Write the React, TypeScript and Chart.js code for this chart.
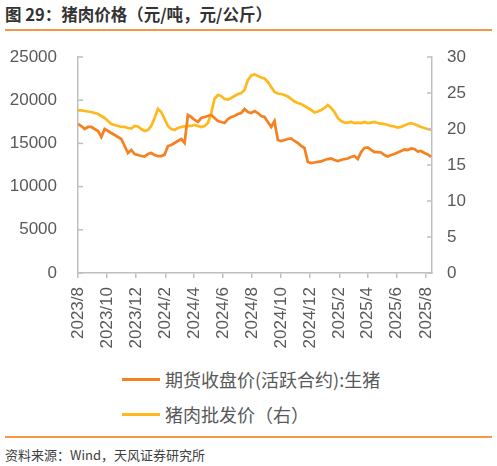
import { useEffect, useRef } from 'react';
import { Chart, registerables } from 'chart.js';

Chart.register(...registerables);

// weekly samples starting 2023-08-01
const startDate = Date.UTC(2023, 7, 1);
const stepDays = 7;

const tickLabels = ['2023/8', '2023/10', '2023/12', '2024/2', '2024/4', '2024/6', '2024/8', '2024/10', '2024/12', '2025/2', '2025/4', '2025/6', '2025/8'];

const seriesNames = ['期货收盘价(活跃合约):生猪', '猪肉批发价（右）'];

// 元/吨
const futuresPrice = [
    17250, 17010, 16670, 16900, 16900, 16670, 16440, 15740, 16670, 16440,
    16200, 15970, 15740, 15510, 14700, 13890, 14240, 13770, 13660, 13540,
    13480, 13770, 13890, 13660, 13540, 13540, 13700, 14700, 14820, 15050,
    15280, 15510, 15050, 18290, 18060, 17710, 17480, 17940, 18060, 18170,
    18290, 17940, 17590, 17480, 17360, 17820, 18060, 18170, 18400, 18520,
    18980, 18630, 18520, 18750, 18520, 18170, 18060, 17480, 16900, 17590,
    15390, 15280, 15390, 15510, 15570, 15280, 15050, 14700, 14470, 12850,
    12730, 12790, 12850, 12910, 13080, 13190, 13250, 13080, 12960, 13080,
    13190, 13250, 13430, 13540, 13190, 14000, 14470, 14530, 14240, 14000,
    14000, 13950, 13660, 13480, 13660, 13770, 13950, 14120, 14290, 14240,
    14410, 14350, 14060, 14120, 13890, 13720, 13430,
];

// 元/公斤
const wholesalePrice = [
    22.57, 22.57, 22.5, 22.43, 22.36, 22.22, 22.08, 21.8, 21.53, 21.11,
    20.7, 20.56, 20.42, 20.28, 20.28, 20.14, 20.07, 20.42, 20.35, 20.0,
    19.72, 19.86, 20.42, 21.53, 22.78, 22.36, 21.39, 20.42, 20.0, 19.86,
    20.14, 20.28, 20.35, 20.42, 20.42, 20.56, 20.42, 20.28, 20.42, 20.83,
    22.2, 24.2, 24.72, 24.58, 24.17, 24.1, 24.31, 24.58, 24.86, 25.0,
    25.42, 26.8, 27.43, 27.57, 27.36, 27.15, 27.01, 26.53, 25.83, 25.14,
    24.93, 24.86, 24.72, 24.51, 24.17, 23.82, 23.61, 23.47, 23.19, 22.92,
    22.64, 22.3, 22.43, 22.64, 22.92, 23.33, 22.92, 22.36, 21.53, 21.11,
    20.9, 20.9, 20.97, 20.83, 20.9, 20.83, 20.97, 20.83, 20.9, 20.97,
    20.83, 20.76, 20.69, 20.56, 20.42, 20.35, 20.2, 20.3, 20.5, 20.69,
    20.8, 20.7, 20.5, 20.28, 20.14, 20.0, 19.86,
];

const axisColor = '#bfbfbf';
const textColor = '#595959';
const numFont = { family: '"Liberation Sans", Arial, sans-serif', size: 17 };
const cjkFont = '"Noto Sans CJK SC", "Noto Sans", sans-serif';
const hidden = 'rgba(0,0,0,0)';

const dayOf = (label: string) => {
    const [y, m] = label.split('/').map(Number);
    return Math.round((Date.UTC(y, m - 1, 1) - startDate) / 86400000);
};
const tickDays = tickLabels.map(dayOf);

// y axes have their tick marks pointing into the plot
const innerTicks = {
    id: 'innerTicks',
    afterDraw(chart: any) {
        const { ctx, chartArea } = chart;
        ctx.save();
        ctx.strokeStyle = axisColor;
        ctx.lineWidth = 1.5;
        const draw = (scale: any, x0: number, x1: number) => {
            scale.ticks.forEach((t: any) => {
                const py = scale.getPixelForValue(t.value);
                ctx.beginPath();
                ctx.moveTo(x0, py);
                ctx.lineTo(x1, py);
                ctx.stroke();
            });
        };
        draw(chart.scales.y, chartArea.left, chartArea.left + 5);
        draw(chart.scales.y1, chartArea.right, chartArea.right - 5);
        ctx.restore();
    },
};

const PorkChart = () => {
    const chartRef = useRef<HTMLCanvasElement | null>(null);

    useEffect(() => {
        const ctx = chartRef.current?.getContext('2d');
        if (!ctx) return;
        const myChart = new Chart(ctx, {
            type: 'line',
            data: {
                datasets: [
                    {
                        label: seriesNames[0],
                        data: futuresPrice.map((v, i) => ({ x: i * stepDays, y: v })),
                        borderColor: '#F58220',
                        borderWidth: 2.75,
                        yAxisID: 'y',
                    },
                    {
                        label: seriesNames[1],
                        data: wholesalePrice.map((v, i) => ({ x: i * stepDays, y: v })),
                        borderColor: '#FFB91E',
                        borderWidth: 2.75,
                        yAxisID: 'y1',
                    },
                ],
            },
            options: {
                responsive: true,
                maintainAspectRatio: false,
                animation: false,
                layout: { padding: { top: 17, left: 0, right: 0, bottom: 0 } },
                elements: { point: { radius: 0 }, line: { tension: 0 } },
                plugins: { legend: { display: false }, tooltip: { enabled: false } },
                scales: {
                    x: {
                        type: 'linear',
                        min: 0,
                        max: 744,
                        afterBuildTicks: (s: any) => {
                            s.ticks = tickDays.map((v) => ({ value: v }));
                        },
                        afterFit: (s: any) => {
                            s.height = 87;
                        },
                        grid: { display: true, drawOnChartArea: false, drawTicks: true, tickLength: 5, color: axisColor, lineWidth: 1.5 },
                        border: { color: axisColor, width: 1.5 },
                        ticks: {
                            autoSkip: false,
                            maxRotation: 90,
                            minRotation: 90,
                            padding: 9,
                            color: textColor,
                            font: numFont,
                            callback: (v: any) => {
                                const idx = tickDays.indexOf(Number(v));
                                return idx >= 0 ? tickLabels[idx] : '';
                            },
                        },
                    },
                    y: {
                        position: 'left',
                        min: 0,
                        max: 25000,
                        afterFit: (s: any) => {
                            s.width = 78;
                        },
                        // invisible outer ticks just push the labels away from the axis
                        grid: { display: true, drawOnChartArea: false, drawTicks: true, tickLength: 18, color: hidden },
                        border: { color: axisColor, width: 1.5 },
                        ticks: { stepSize: 5000, padding: 3, color: textColor, font: numFont, callback: (v: any) => String(v) },
                    },
                    y1: {
                        position: 'right',
                        min: 0,
                        max: 30,
                        afterFit: (s: any) => {
                            s.width = 65;
                        },
                        grid: { display: true, drawOnChartArea: false, drawTicks: true, tickLength: 12, color: hidden },
                        border: { color: axisColor, width: 1.5 },
                        ticks: { stepSize: 5, padding: 3, color: textColor, font: numFont, callback: (v: any) => String(v) },
                    },
                },
            },
            plugins: [innerTicks],
        } as any);

        return () => {
            myChart.destroy();
        };
    }, []);

    return <canvas ref={chartRef} />;
};

const legendRow = (color: string, text: string, top: number) => (
    <div style={{ position: 'absolute', left: 122, top, height: 24, display: 'flex', alignItems: 'center' }}>
        <div style={{ width: 38, height: 3, background: color }} />
        <span style={{ marginLeft: 5, fontFamily: cjkFont, fontSize: 18, color: textColor, lineHeight: '24px', whiteSpace: 'nowrap' }}>{text}</span>
    </div>
);

export default function App() {
    return (
        <div style={{ position: 'fixed', left: 0, top: 0, width: 497, height: 466, background: '#fff', overflow: 'hidden' }}>
            <div style={{ position: 'absolute', left: 5, top: 4, height: 21, lineHeight: '21px', fontFamily: cjkFont, fontSize: 16.5, fontWeight: 'bold', color: '#333', whiteSpace: 'nowrap' }}>
                图 29：猪肉价格（元/吨，元/公斤）
            </div>
            <div style={{ position: 'absolute', left: 5, top: 28.5, width: 487, height: 2, background: '#F79646' }} />
            <div style={{ position: 'absolute', left: 0, top: 40, width: 497, height: 320 }}>
                <PorkChart />
            </div>
            {legendRow('#F58220', seriesNames[0], 367)}
            {legendRow('#FFB91E', seriesNames[1], 402)}
            <div style={{ position: 'absolute', left: 5, top: 436, width: 487, height: 1.5, background: '#F79646' }} />
            <div style={{ position: 'absolute', left: 5, top: 446, height: 18, lineHeight: '18px', fontFamily: cjkFont, fontSize: 13, color: '#404040', whiteSpace: 'nowrap' }}>
                资料来源：Wind，天风证券研究所
            </div>
        </div>
    );
}
